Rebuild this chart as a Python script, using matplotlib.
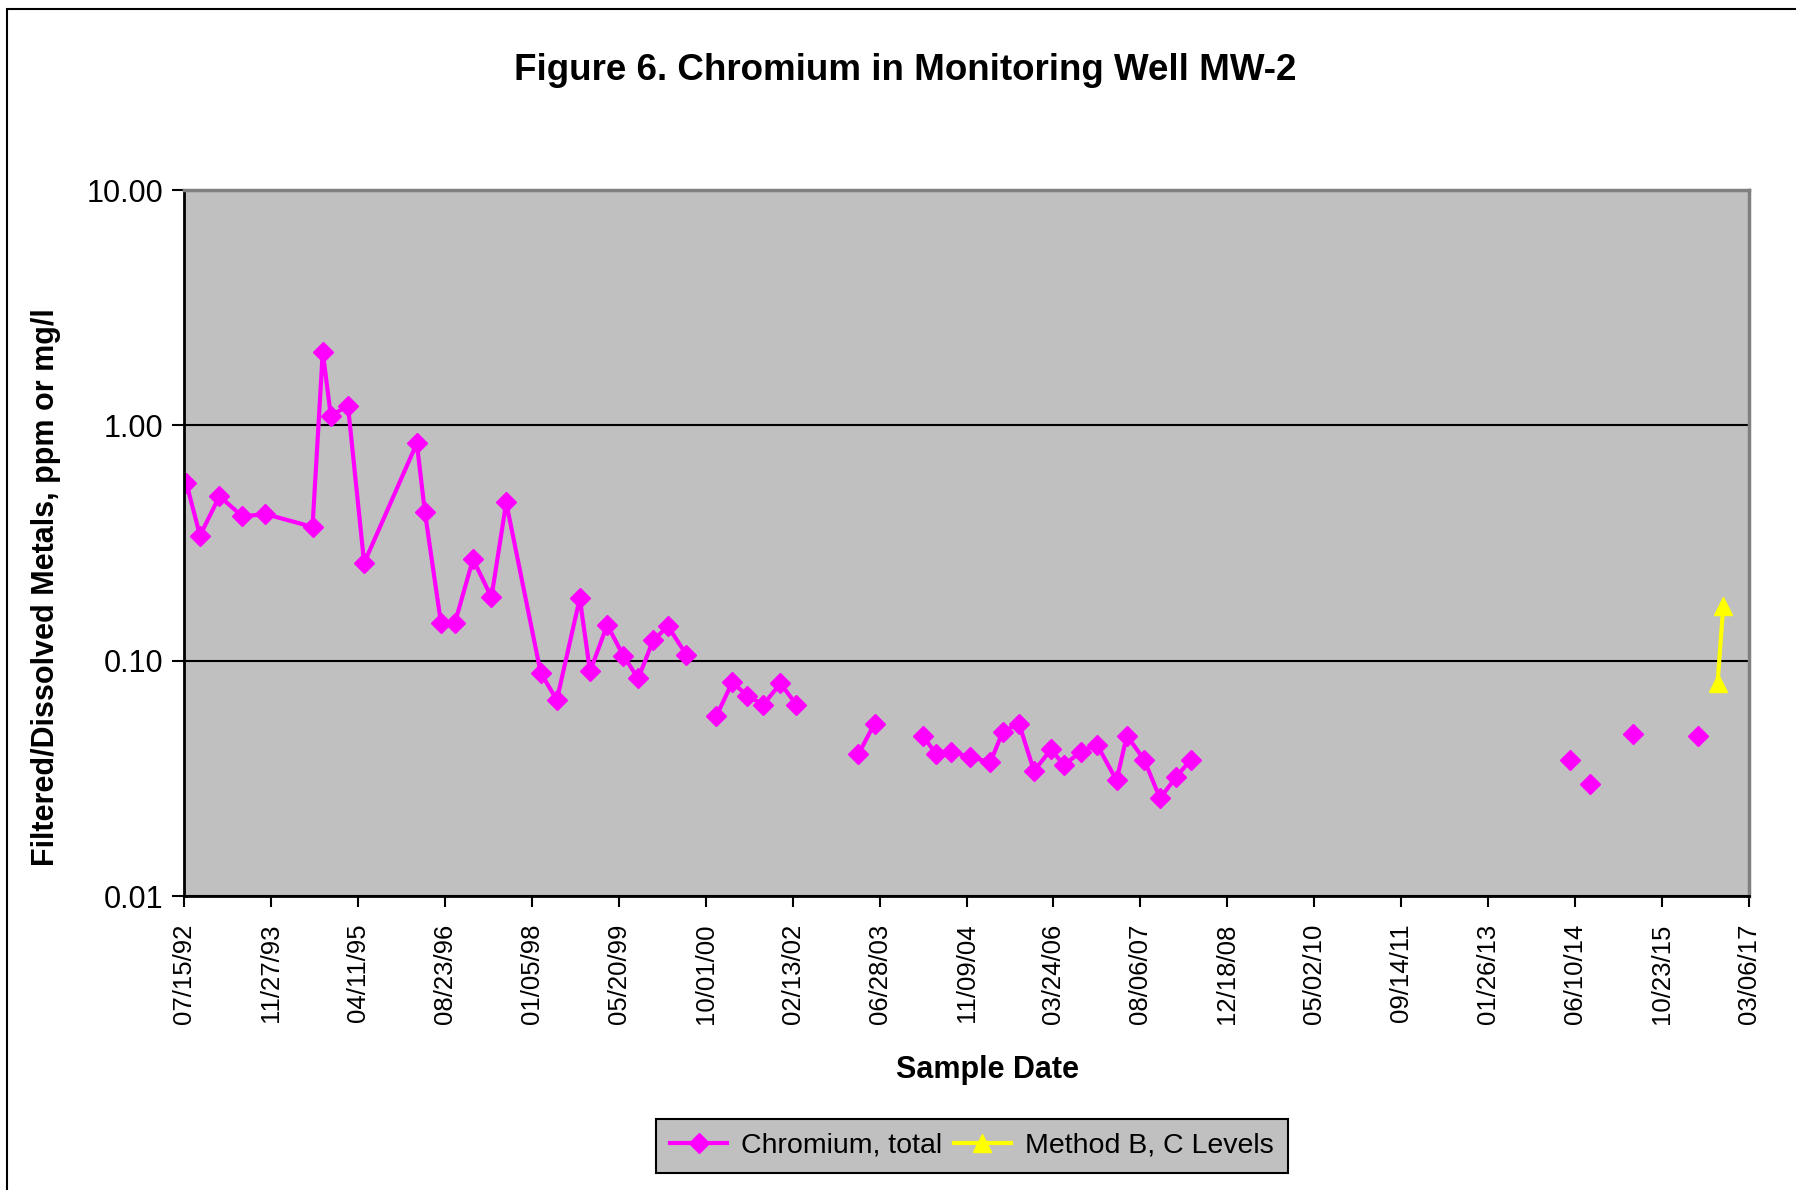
import numpy as np
import matplotlib
matplotlib.use("Agg")
import matplotlib.pyplot as plt
import matplotlib.dates as mdates
from matplotlib.patches import Rectangle

plt.rcParams['font.family'] = ['Liberation Sans', 'DejaVu Sans']

# Chromium, total (ppm) - sample dates and values
cr_dates = ['1992-07-28', '1992-10-15', '1993-02-04', '1993-06-16', '1993-10-26',
            '1994-07-24', '1994-09-21', '1994-11-06', '1995-02-13', '1995-05-17',
            '1996-03-15', '1996-04-30', '1996-08-01', '1996-10-19', '1997-02-01',
            '1997-05-18', '1997-08-11', '1998-02-25', '1998-05-29', '1998-10-08',
            '1998-12-06', '1999-03-15', '1999-06-15', '1999-09-09', '1999-12-04',
            '2000-02-27', '2000-06-12',
            '2000-12-01', '2001-03-03', '2001-05-28', '2001-08-28', '2001-12-05',
            '2002-03-07',
            '2003-02-26', '2003-05-30',
            '2004-03-02', '2004-05-20', '2004-08-14', '2004-11-27', '2005-03-26',
            '2005-06-06', '2005-09-07', '2005-12-02', '2006-03-11', '2006-05-22',
            '2006-08-29', '2006-11-29', '2007-03-22', '2007-05-20', '2007-08-27',
            '2007-11-27', '2008-02-27', '2008-05-23',
            '2014-05-09', '2014-09-05', '2015-05-07', '2016-05-17']
cr_values = [0.57, 0.34, 0.50, 0.41, 0.42,
             0.37, 2.05, 1.10, 1.21, 0.26,
             0.84, 0.43, 0.144, 0.144, 0.27,
             0.186, 0.47, 0.089, 0.068, 0.184,
             0.090, 0.142, 0.105, 0.084, 0.122,
             0.140, 0.106,
             0.058, 0.081, 0.071, 0.065, 0.080,
             0.065,
             0.040, 0.054,
             0.048, 0.040, 0.041, 0.039, 0.037,
             0.050, 0.054, 0.034, 0.042, 0.036,
             0.041, 0.044, 0.031, 0.048, 0.038,
             0.026, 0.032, 0.038,
             0.038, 0.030, 0.049, 0.048]
# line segments (gaps between them in the original)
cr_segment = [0] * 27 + [1] * 6 + [2] * 2 + [3] * 18 + [4, 5, 6, 7]

# Method B, C cleanup levels
mb_dates = ['2016-09-06', '2016-10-09']
mb_values = [0.08, 0.17]

x_start = '1992-07-15'
x_end = '2017-03-06'
tick_step_days = 500

cr_x = mdates.datestr2num(cr_dates)
mb_x = mdates.datestr2num(mb_dates)
x0 = mdates.datestr2num(x_start)
x1 = mdates.datestr2num(x_end)

fig = plt.figure(figsize=(17.96, 11.90), dpi=100)
fig.patches.append(Rectangle((7 / 1796, -0.01), 1.1, 1 - 9 / 1190 + 0.01,
                             transform=fig.transFigure, fill=False,
                             edgecolor='black', linewidth=1.5))

ax = fig.add_axes([184 / 1796, 1 - 896 / 1190, (1749 - 184) / 1796, (896 - 190) / 1190])
ax.set_facecolor('#C0C0C0')

seg = np.array(cr_segment)
for s in np.unique(seg):
    m = seg == s
    ax.plot(cr_x[m], np.array(cr_values)[m], color='#FF00FF', lw=3,
            marker='D', ms=10, label='Chromium, total' if s == 0 else None)
ax.plot(mb_x, mb_values, color='#FFFF00', lw=3, marker='^', ms=13,
        label='Method B, C Levels')

ax.set_yscale('log')
ax.set_ylim(0.01, 10)
ax.set_xlim(x0, x1)
ax.set_yticks([0.01, 0.1, 1, 10])
ax.set_yticklabels(['%.2f' % v for v in [0.01, 0.1, 1, 10]])
ax.yaxis.set_minor_locator(matplotlib.ticker.NullLocator())
ax.set_xticks(np.arange(x0, x1 + 1, tick_step_days))
ax.xaxis.set_major_formatter(mdates.DateFormatter('%m/%d/%y'))
ax.grid(axis='y', color='black', lw=1.5)
ax.set_axisbelow(True)

ax.tick_params(axis='y', labelsize=22, length=9, width=1.5, direction='out', pad=6)
ax.tick_params(axis='x', labelsize=18.5, length=8, width=1.5, direction='out',
               rotation=90, pad=12)

for side in ['left', 'bottom']:
    ax.spines[side].set_linewidth(2)
    ax.spines[side].set_color('black')
for side in ['top', 'right']:
    ax.spines[side].set_linewidth(2.5)
    ax.spines[side].set_color('#808080')

ax.set_xlabel('Sample Date', fontsize=22, fontweight='bold')
ax.xaxis.set_label_coords((988 - 184) / (1749 - 184), -(1070 - 896) / (896 - 190),
                          transform=ax.transAxes)
ax.set_ylabel('Filtered/Dissolved Metals, ppm or mg/l', fontsize=22,
              fontweight='bold')
ax.yaxis.set_label_coords(-(184 - 46) / (1749 - 184), (896 - 587) / (896 - 190),
                          transform=ax.transAxes)
ax.yaxis.label.set_va('center')
ax.xaxis.label.set_va('center')

fig.text(905 / 1796, 1 - 70 / 1190, 'Figure 6. Chromium in Monitoring Well MW-2',
         ha='center', va='center', fontsize=26.5, fontweight='bold')

leg = fig.legend(loc='center', bbox_to_anchor=(972 / 1796, 1 - 1146 / 1190),
                 ncol=2, fontsize=20.5, frameon=True, fancybox=False,
                 facecolor='#C0C0C0', edgecolor='black', framealpha=1,
                 handlelength=2.0, handletextpad=0.5, columnspacing=0.4,
                 borderpad=0.5, borderaxespad=0)
leg.get_frame().set_linewidth(1.5)

fig.savefig('out.png', dpi=100)
